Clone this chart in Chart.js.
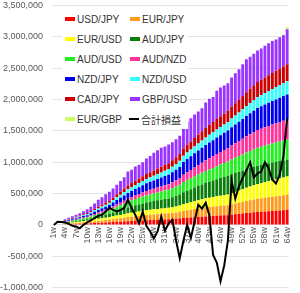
<!DOCTYPE html>
<html>
<head>
<meta charset="utf-8">
<script src="https://cdn.jsdelivr.net/npm/chart.js@4.4.1/dist/chart.umd.min.js"></script>
<style>
  body { margin: 0; background: #fff; }
  #wrap { position: relative; width: 300px; height: 293px; }
  #legend {
    position: absolute; left: 62px; top: 9px; width: 126px; height: 120px;
    background: #fff; padding-left: 3px; box-sizing: border-box;
    display: grid; grid-template-columns: 65px 61px; grid-auto-rows: 20px;
    font: 10px "Liberation Sans", Arial, "Noto Sans CJK JP", sans-serif; color: #333;
  }
  .item { display: flex; align-items: center; white-space: nowrap; }
  .sw { width: 10px; height: 4px; margin-right: 2px; }
  .ln { width: 10px; height: 2px; background: #000; margin: 0 2px 0 -1px; }
  .jp { font-family: "Noto Sans CJK JP", sans-serif; }
</style>
</head>
<body>
<div id="wrap">
  <canvas id="pnlChart" width="300" height="293"></canvas>
  <div id="legend"></div>
</div>
<script>
const weeks = ["1w","2w","3w","4w","5w","6w","7w","8w","9w","10w","11w","12w","13w","14w","15w","16w",
  "17w","18w","19w","20w","21w","22w","23w","24w","25w","26w","27w","28w","29w","30w","31w","32w",
  "33w","34w","35w","36w","37w","38w","39w","40w","41w","42w","43w","44w","45w","46w","47w","48w",
  "49w","50w","51w","52w","53w","54w","55w","56w","57w","58w","59w","60w","61w","62w","63w","64w"];

const usdJpy = [0,0,0,8000,10000,12000,15000,17000,20000,22000,25000,29000,32000,35000,38000,41000,
  45000,49000,52000,56000,60000,63000,66000,68000,71000,74000,76000,79000,81000,84000,86000,88000,
  92000,96000,102000,110000,114000,118000,122000,126000,130000,135000,138000,141000,145000,149000,152000,155000,
  162000,168000,174000,181000,188000,194000,200000,205000,209000,213000,218000,222000,226000,230000,235000,240000];
const eurJpy = [0,0,0,8000,11000,13000,15000,18000,20000,22000,26000,29000,32000,35000,38000,41000,
  46000,51000,55000,59000,64000,68000,72000,76000,79000,83000,85000,87000,90000,92000,94000,96000,
  99000,102000,106000,112000,118000,124000,130000,135000,140000,145000,147000,150000,153000,155000,158000,160000,
  167000,173000,179000,186000,192000,198000,204000,210000,214000,218000,222000,226000,229000,233000,236000,240000];
const eurUsd = [0,0,0,8000,10000,12000,15000,17000,20000,22000,25000,29000,32000,35000,38000,41000,
  45000,49000,52000,56000,60000,64000,68000,71000,75000,78000,80000,82000,84000,85000,87000,88000,
  92000,96000,101000,108000,114000,120000,127000,133000,139000,145000,149000,153000,158000,162000,166000,170000,
  178000,186000,194000,202000,211000,219000,227000,235000,242000,249000,256000,263000,270000,277000,284000,290000];
const audJpy = [0,0,0,9000,11000,13000,15000,17000,20000,22000,27000,33000,38000,44000,49000,54000,
  62000,70000,78000,86000,94000,100000,106000,111000,117000,122000,127000,131000,136000,140000,145000,149000,
  158000,167000,176000,190000,199000,208000,218000,227000,236000,245000,254000,263000,273000,282000,291000,300000,
  302000,303000,302000,300000,299000,298000,296000,295000,292000,289000,286000,283000,280000,277000,273000,270000];
const audUsd = [0,0,0,9000,12000,15000,18000,21000,24000,27000,31000,36000,40000,45000,49000,54000,
  62000,70000,78000,86000,94000,98000,102000,106000,109000,113000,118000,122000,127000,131000,136000,140000,
  145000,150000,155000,162000,167000,171000,176000,181000,185000,190000,196000,202000,208000,213000,219000,225000,
  233000,240000,248000,255000,263000,270000,278000,285000,289000,294000,298000,303000,307000,311000,316000,320000];
const audNzd = [0,0,0,5000,6000,8000,9000,10000,12000,13000,16000,19000,22000,26000,29000,32000,
  34000,36000,39000,41000,43000,49000,54000,59000,65000,70000,73000,76000,79000,82000,85000,88000,
  94000,100000,107000,117000,126000,135000,143000,152000,161000,170000,178000,185000,193000,200000,208000,215000,
  224000,233000,241000,250000,259000,268000,276000,285000,289000,294000,298000,303000,307000,311000,316000,320000];
const nzdJpy = [0,0,0,10000,13000,16000,18000,21000,24000,27000,31000,36000,40000,45000,49000,54000,
  62000,70000,78000,86000,94000,100000,106000,111000,117000,122000,127000,131000,136000,140000,145000,149000,
  158000,167000,178000,205000,212000,218000,225000,232000,238000,245000,251000,257000,263000,268000,274000,280000,
  289000,298000,306000,315000,324000,333000,341000,350000,356000,363000,369000,375000,381000,388000,394000,400000];
const nzdUsd = [0,0,0,6000,8000,10000,12000,14000,16000,18000,21000,24000,27000,30000,33000,36000,
  41000,46000,50000,55000,60000,62000,64000,66000,68000,70000,73000,76000,79000,82000,85000,88000,
  91000,94000,97000,100000,103000,107000,110000,113000,117000,120000,123000,125000,128000,130000,133000,135000,
  140000,145000,150000,155000,160000,165000,170000,175000,179000,184000,188000,193000,197000,201000,206000,210000];
const cadJpy = [0,0,0,7000,8000,10000,12000,13000,15000,17000,20000,23000,27000,30000,33000,36000,
  41000,46000,50000,55000,60000,64000,67000,71000,74000,78000,81000,84000,87000,90000,93000,96000,
  100000,105000,110000,116000,123000,129000,136000,142000,149000,155000,159000,163000,168000,172000,176000,180000,
  188000,195000,203000,210000,218000,225000,233000,240000,244000,248000,251000,255000,259000,263000,266000,270000];
const gbpUsd = [0,0,0,20000,24000,28000,33000,38000,45000,60000,68000,82000,110000,115000,134000,141000,
  142000,153000,168000,180000,221000,212000,225000,221000,225000,250000,260000,282000,291000,304000,294000,298000,
  290000,290000,290000,380000,374000,370000,373000,369000,365000,400000,415000,401000,450000,459000,445000,440000,
  467000,479000,483000,506000,526000,510000,505000,500000,500000,505000,510000,510000,500000,500000,500000,560000];
const eurGbp = [0,0,0,0,0,0,0,0,0,0,0,0,0,0,0,0,
  0,0,0,0,0,0,0,0,0,0,0,0,0,0,0,0,
  0,0,0,0,0,0,0,0,0,0,0,0,0,0,0,0,
  0,0,0,0,0,0,0,0,0,0,0,0,0,0,10000,30000];
const totalPnl = [0,50000,45000,40000,15000,-15000,-25000,-55000,0,40000,70000,110000,145000,160000,215000,270000,
  240000,215000,240000,270000,400000,270000,160000,25000,215000,-20000,-105000,-215000,-105000,130000,-90000,20000,
  80000,-250000,-530000,-250000,0,-210000,50000,320000,260000,350000,150000,-480000,-600000,-900000,-650000,-250000,
  700000,420000,620000,750000,870000,1000000,760000,820000,850000,1000000,900000,720000,660000,800000,1100000,1700000];

const pairs = [
  { label: "USD/JPY", data: usdJpy, color: "#ff0000" },
  { label: "EUR/JPY", data: eurJpy, color: "#ff9a1a" },
  { label: "EUR/USD", data: eurUsd, color: "#ffff00" },
  { label: "AUD/JPY", data: audJpy, color: "#0a7d0a" },
  { label: "AUD/USD", data: audUsd, color: "#22ee22" },
  { label: "AUD/NZD", data: audNzd, color: "#ff3399" },
  { label: "NZD/JPY", data: nzdJpy, color: "#0000ee" },
  { label: "NZD/USD", data: nzdUsd, color: "#33ffff" },
  { label: "CAD/JPY", data: cadJpy, color: "#cc0000" },
  { label: "GBP/USD", data: gbpUsd, color: "#9933ff" },
  { label: "EUR/GBP", data: eurGbp, color: "#ccff66" }
];

const fontFamily = '"Liberation Sans", Arial, sans-serif';
const tickColor = "#595959";

// legend (drawn as html, sits inside the plot like the original)
const legendBox = document.getElementById("legend");
pairs.forEach(p => {
  legendBox.innerHTML += `<div class="item"><span class="sw" style="background:${p.color}"></span>${p.label}</div>`;
});
legendBox.innerHTML += `<div class="item"><span class="ln"></span><span class="jp">合計損益</span></div>`;

const datasets = [{
  type: "line",
  label: "合計損益",
  data: totalPnl,
  borderColor: "#000",
  borderWidth: 2,
  pointRadius: 0,
  tension: 0,
  fill: false,
  stack: "pnl",
  order: 0
}];
pairs.forEach(p => {
  datasets.push({
    label: p.label,
    data: p.data,
    backgroundColor: p.color,
    stack: "fx",
    order: 1,
    barPercentage: 0.78,
    categoryPercentage: 1
  });
});

new Chart(document.getElementById("pnlChart"), {
  type: "bar",
  data: { labels: weeks, datasets },
  options: {
    responsive: false,
    animation: false,
    layout: { padding: { top: 0, right: 6, bottom: 0, left: 0 } },
    plugins: { legend: { display: false }, tooltip: { enabled: false } },
    scales: {
      x: {
        stacked: true,
        position: { y: 0 },
        grid: { display: false, drawTicks: false },
        border: { display: false },
        ticks: {
          autoSkip: false,
          minRotation: 90,
          maxRotation: 90,
          padding: 2,
          color: tickColor,
          font: { size: 9, family: fontFamily },
          callback: function (v, i) { return i % 3 === 0 ? this.getLabelForValue(v) : ""; }
        }
      },
      y: {
        stacked: true,
        min: -1000000,
        max: 3500000,
        afterFit: s => { s.width = 52; },
        // tick marks are invisible, they only push the labels away from the plot
        grid: { color: "#e4e4e4", drawTicks: true, tickLength: 9, tickColor: "rgba(0,0,0,0)" },
        border: { display: false },
        ticks: {
          stepSize: 500000,
          padding: 0,
          color: tickColor,
          font: { size: 9, family: fontFamily },
          callback: v => v.toLocaleString("en-US")
        }
      }
    }
  }
});
</script>
</body>
</html>
